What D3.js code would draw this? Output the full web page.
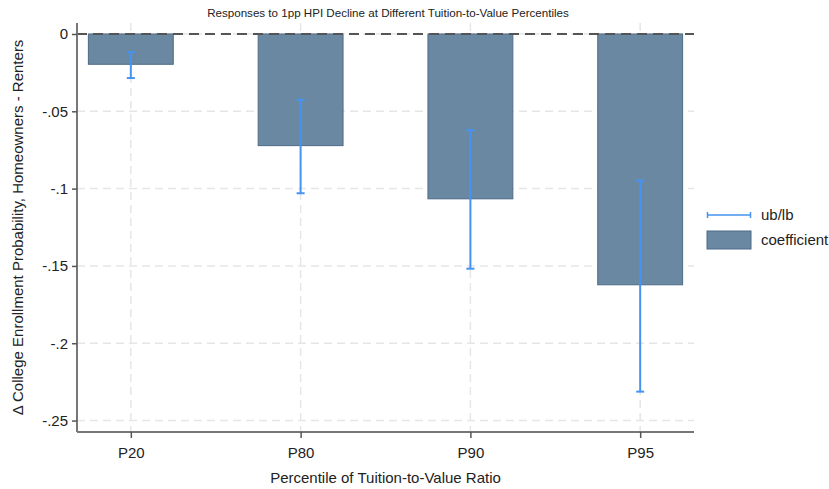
<!DOCTYPE html>
<html>
<head>
<meta charset="utf-8">
<script src="https://cdn.jsdelivr.net/npm/d3@7"></script>
<style>
  body { margin: 0; background: #fff; }
  text { font-family: "Liberation Sans", Arial, sans-serif; fill: #222; }
</style>
</head>
<body>
<div id="chart"></div>
<script>
// chart data
var categories = ["P20", "P80", "P90", "P95"];
var coefficient = [-0.0196, -0.0722, -0.1066, -0.1622];
var upper = [-0.0118, -0.0425, -0.0622, -0.0948];
var lower = [-0.0285, -0.1030, -0.1518, -0.2313];
var yTicks = [0, -0.05, -0.1, -0.15, -0.2, -0.25];
var yTickLabels = ["0", "-.05", "-.1", "-.15", "-.2", "-.25"];

var W = 829, H = 489;
var margin = { top: 23, right: 135, bottom: 57, left: 77 },
  width = W - margin.left - margin.right,
  height = H - margin.top - margin.bottom;

var svg = d3.select("#chart").append("svg")
  .attr("width", W)
  .attr("height", H);

var g = svg.append("g")
  .attr("transform", "translate(" + margin.left + "," + margin.top + ")");

var x = d3.scalePoint().domain(categories).range([0, width]).padding(0.317);
var step = x.step();
var y = d3.scaleLinear().domain([0.0071, -0.2574]).range([0, height]);

// grid lines
g.append("g").selectAll("line").data(yTicks).enter().append("line")
  .attr("x1", 0).attr("x2", width)
  .attr("y1", function (d) { return y(d); })
  .attr("y2", function (d) { return y(d); })
  .attr("stroke", "#e6e6e6").attr("stroke-width", 1.5)
  .attr("stroke-dasharray", "8,5");
g.append("g").selectAll("line").data(categories).enter().append("line")
  .attr("x1", function (d) { return x(d); })
  .attr("x2", function (d) { return x(d); })
  .attr("y1", 0).attr("y2", height)
  .attr("stroke", "#e6e6e6").attr("stroke-width", 1.5)
  .attr("stroke-dasharray", "8,5");

// bars
var bw = step * 0.5;
g.selectAll("rect.bar").data(categories).enter().append("rect")
  .attr("class", "bar")
  .attr("x", function (d) { return x(d) - bw / 2; })
  .attr("y", y(0))
  .attr("width", bw)
  .attr("height", function (d, i) { return y(coefficient[i]) - y(0); })
  .attr("fill", "#6b88a3")
  .attr("stroke", "#4d6b88")
  .attr("stroke-width", 1);

// zero line
g.append("line")
  .attr("x1", 0).attr("x2", width)
  .attr("y1", y(0)).attr("y2", y(0))
  .attr("stroke", "#555").attr("stroke-width", 2)
  .attr("stroke-dasharray", "10,6");

// error bars
var eb = g.append("g").attr("stroke", "#4593f2").attr("stroke-width", 2);
categories.forEach(function (c, i) {
  eb.append("line")
    .attr("x1", x(c)).attr("x2", x(c))
    .attr("y1", y(upper[i])).attr("y2", y(lower[i]));
  [upper[i], lower[i]].forEach(function (v) {
    eb.append("line")
      .attr("x1", x(c) - 4).attr("x2", x(c) + 4)
      .attr("y1", y(v)).attr("y2", y(v));
  });
});

// axes
var yAxis = g.append("g")
  .call(d3.axisLeft(y).tickValues(yTicks)
    .tickFormat(function (d, i) { return yTickLabels[i]; })
    .tickSize(5).tickPadding(4));
yAxis.select(".domain").attr("stroke", "#777").attr("stroke-width", 2)
  .attr("d", "M0," + height + "V0");
yAxis.selectAll(".tick line").attr("stroke", "#555").attr("stroke-width", 1.5);
yAxis.selectAll("text").style("font-size", "15px").attr("fill", "#222");

var xAxis = g.append("g")
  .attr("transform", "translate(0," + height + ")")
  .call(d3.axisBottom(x).tickSize(6).tickPadding(9));
xAxis.select(".domain").attr("stroke", "#777").attr("stroke-width", 2)
  .attr("d", "M0,0H" + width);
xAxis.selectAll(".tick line").attr("stroke", "#555").attr("stroke-width", 1.5);
xAxis.selectAll("text").style("font-size", "15px").attr("fill", "#222");

// titles
svg.append("text")
  .attr("x", 388).attr("y", 17)
  .attr("text-anchor", "middle")
  .style("font-size", "11.6px")
  .text("Responses to 1pp HPI Decline at Different Tuition-to-Value Percentiles");

svg.append("text")
  .attr("x", margin.left + width / 2).attr("y", 483)
  .attr("text-anchor", "middle")
  .style("font-size", "15px")
  .text("Percentile of Tuition-to-Value Ratio");

svg.append("text")
  .attr("transform", "translate(23," + (margin.top + height / 2) + ") rotate(-90)")
  .attr("text-anchor", "middle")
  .style("font-size", "15px")
  .text("\u0394 College Enrollment Probability, Homeowners - Renters");

// legend
var lg = svg.append("g").attr("transform", "translate(707,0)");
lg.append("line").attr("x1", 0).attr("x2", 44).attr("y1", 215).attr("y2", 215)
  .attr("stroke", "#4593f2").attr("stroke-width", 1.5);
lg.append("line").attr("x1", 0.5).attr("x2", 0.5).attr("y1", 212).attr("y2", 218)
  .attr("stroke", "#4593f2").attr("stroke-width", 1.5);
lg.append("line").attr("x1", 43.5).attr("x2", 43.5).attr("y1", 212).attr("y2", 218)
  .attr("stroke", "#4593f2").attr("stroke-width", 1.5);
lg.append("text").attr("x", 54).attr("y", 220).style("font-size", "15px").text("ub/lb");
lg.append("rect").attr("x", 0).attr("y", 231).attr("width", 44).attr("height", 18)
  .attr("fill", "#6b88a3").attr("stroke", "#4d6b88");
lg.append("text").attr("x", 54).attr("y", 245).style("font-size", "15px").text("coefficient");
</script>
</body>
</html>
